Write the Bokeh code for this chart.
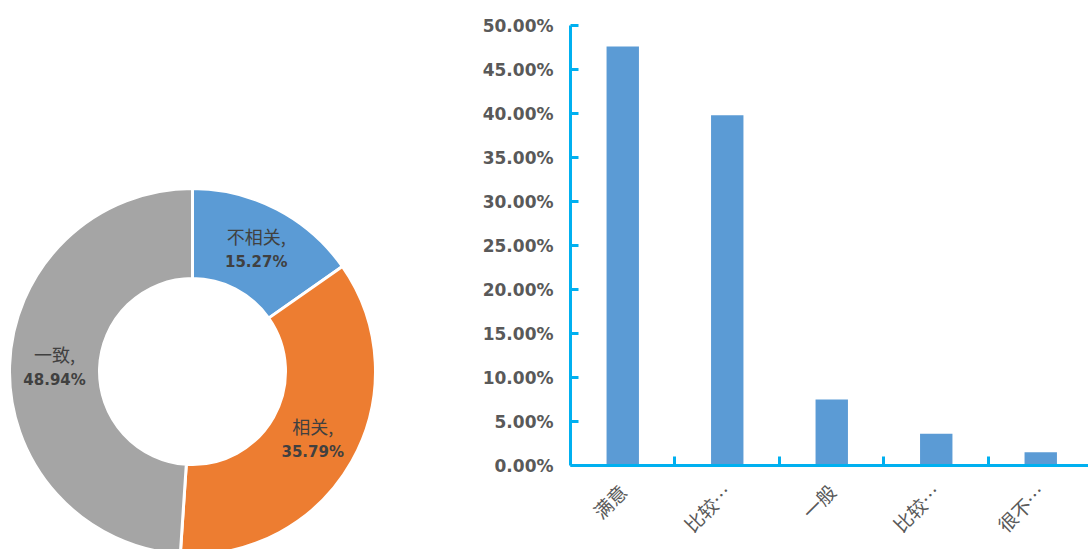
import math
from bokeh.plotting import figure
from bokeh.layouts import row, column
from bokeh.models import Range1d, FixedTicker, NumeralTickFormatter, ColumnDataSource
from bokeh.core.properties import value
from bokeh.embed import file_html
from bokeh.resources import INLINE

# ---- data ----
donut_labels = ["不相关", "相关", "一致"]
donut_values = [15.27, 35.79, 48.94]
donut_colors = ["#5B9BD5", "#ED7D31", "#A5A5A5"]

bar_categories = ["满意", "比较满意", "一般", "比较不满意", "很不满意"]
bar_tick_labels = ["满意", "比较…", "一般", "比较…", "很不…"]
bar_values = [0.476, 0.398, 0.075, 0.036, 0.015]
y_ticks = [0.0, 0.05, 0.10, 0.15, 0.20, 0.25, 0.30, 0.35, 0.40, 0.45, 0.50]

AXIS_BLUE = "#00B0F0"
TEXT_GRAY = "#595959"

# ---- donut ----
p1 = figure(width=468, height=549, x_range=Range1d(-192, 276), y_range=Range1d(-178, 371),
            output_backend="svg", toolbar_location=None, min_border=0)
p1.axis.visible = False
p1.grid.visible = False
p1.outline_line_color = None

total = sum(donut_values)
starts, ends, lx, ly, names, pcts = [], [], [], [], [], []
cum = 0.0
r_mid = (93 + 183) / 2
for lab, v in zip(donut_labels, donut_values):
    a0 = math.pi / 2 - 2 * math.pi * (cum + v) / total
    a1 = math.pi / 2 - 2 * math.pi * cum / total
    starts.append(a0)
    ends.append(a1)
    mid = (a0 + a1) / 2
    lx.append(r_mid * math.cos(mid))
    ly.append(r_mid * math.sin(mid))
    names.append(lab + ",")
    pcts.append(f"{v:.2f}%")
    cum += v

src = ColumnDataSource(dict(start=starts, end=ends, color=donut_colors, x=lx, y=ly,
                            name=names, pct=pcts))
p1.annular_wedge(x=0, y=0, inner_radius=93, outer_radius=183, start_angle="start",
                 end_angle="end", fill_color="color", line_color="white", line_width=3,
                 source=src)
p1.text(x="x", y="y", text="name", source=src, y_offset=-13, text_align="center",
        text_baseline="middle", text_font=value("Noto Sans CJK SC"), text_font_size="18px",
        text_color="#404040")
p1.text(x="x", y="y", text="pct", source=src, y_offset=13, text_align="center",
        text_baseline="middle", text_font=value("DejaVu Sans"), text_font_size="15px",
        text_font_style="bold", text_color="#404040")

# ---- bar chart ----
n = len(bar_categories)
xs = [i + 0.5 for i in range(n)]
p2 = figure(width=620, height=549, x_range=Range1d(0, 4.957), y_range=Range1d(0, 0.5),
            output_backend="svg", toolbar_location=None,
            min_border_left=102, min_border_top=25, min_border_bottom=81, min_border_right=0)
p2.grid.visible = False
p2.outline_line_color = None
p2.vbar(x=xs, top=bar_values, width=0.31, fill_color="#5B9BD5", line_color=None)

ya = p2.yaxis[0]
ya.ticker = FixedTicker(ticks=y_ticks)
ya.formatter = NumeralTickFormatter(format="0.00%")
ya.axis_line_color = AXIS_BLUE
ya.axis_line_width = 3
ya.major_tick_line_color = AXIS_BLUE
ya.major_tick_line_width = 3
ya.major_tick_in = 8
ya.major_tick_out = 0
ya.minor_tick_line_color = None
ya.major_label_standoff = 17
ya.major_label_text_font = "DejaVu Sans"
ya.major_label_text_font_style = "bold"
ya.major_label_text_font_size = "17px"
ya.major_label_text_color = TEXT_GRAY

xa = p2.xaxis[0]
xa.ticker = FixedTicker(ticks=xs, minor_ticks=[i for i in range(1, n + 1)])
xa.major_label_overrides = {x: t for x, t in zip(xs, bar_tick_labels)}
xa.axis_line_color = AXIS_BLUE
xa.axis_line_width = 3
xa.major_tick_line_color = None
xa.major_tick_in = 0
xa.major_tick_out = 0
xa.minor_tick_line_color = AXIS_BLUE
xa.minor_tick_line_width = 3
xa.minor_tick_in = 9
xa.minor_tick_out = 0
xa.major_label_orientation = math.pi / 4
xa.major_label_standoff = 22
xa.major_label_text_font = "Noto Sans CJK SC"
xa.major_label_text_font_size = "19px"
xa.major_label_text_color = TEXT_GRAY

layout = row(column(p1), column(p2))
open("out.html", "w").write(file_html(layout, INLINE))
